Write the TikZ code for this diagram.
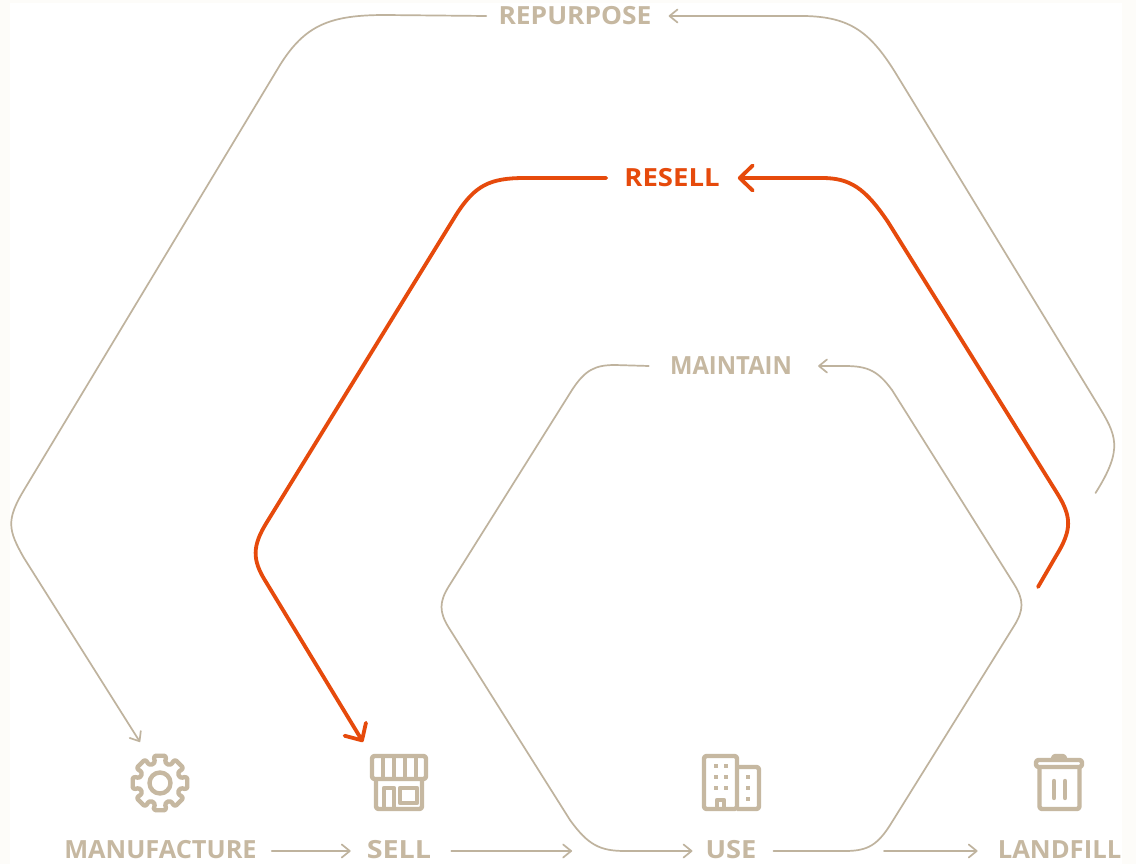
\documentclass[tikz,border=0pt]{standalone}
\usepackage{fontspec}
\setmainfont{Open Sans}
\usetikzlibrary{arrows.meta,calc}
\definecolor{tan}{HTML}{C6B8A1}
\definecolor{tanline}{HTML}{BFB39E}
\definecolor{hot}{HTML}{E64A0C}
\definecolor{paper}{HTML}{FDFCF9}
\newcommand{\hs}[2]{\scalebox{#1}[1]{#2}}
\tikzset{
  lab/.style={inner sep=0pt,text=tan,font=\fontsize{25}{27}\selectfont\bfseries},
  hotlab/.style={lab,text=hot},
  thin line/.style={draw=tanline,line width=1.7pt,line cap=round},
  thin arrow/.style={thin line,-{Straight Barb[length=8pt,width=13pt,line width=1.7pt,round]}},
  hot line/.style={draw=hot,line width=3.8pt,line cap=round},
  hot arrow/.style={hot line,-{Straight Barb[length=13pt,width=25pt,line width=3.8pt,round]}},
  icon/.style={draw=tan,line width=4.4pt,line join=round,rounded corners=2.5pt},
  idot/.style={fill=tan,minimum size=3.6pt,inner sep=0pt,draw=none}
}
\begin{document}
\begin{tikzpicture}[x=1pt,y=-1pt]
\useasboundingbox (0,0) rectangle (1136,864);
\fill[paper] (0,0) rectangle (1136,864);
\fill[white] (10,3) rectangle (1122,864);
% labels
\node[lab] (repurpose) at (575,16) {\hs{1.055}{REPURPOSE}};
\node[hotlab] (resell) at (672,178) {\hs{1.10}{RESELL}};
\node[lab] (maintain) at (731,366) {\hs{.952}{MAINTAIN}};
\node[lab] (manufacture) at (160.5,850) {\hs{1.013}{MANUFACTURE}};
\node[lab] (sell) at (399,850) {\hs{1.148}{SELL}};
\node[lab] (use) at (731,850) {\hs{1.087}{USE}};
\node[lab] (landfill) at (1059.5,850) {\hs{1.025}{LANDFILL}};
% free ends
\coordinate (repstart) at (1095.5,493);
\coordinate (manin) at (140,742);
\coordinate (resstart) at (1038,587);
\coordinate (sellin) at (363,742);
\coordinate (sellout) at (572,851);
\coordinate (landout) at (884,851);
% bottom row
\draw[thin arrow] ([xshift=15pt,yshift=-1pt]manufacture.east) -- ([xshift=-16pt,yshift=-1pt]sell.west);
\draw[thin arrow] ([xshift=20pt,yshift=-1pt]sell.east) -- (sellout);
\draw[thin arrow] (landout) -- ([xshift=-20pt,yshift=-1pt]landfill.west);
% repurpose loop
\draw[thin arrow] (repstart) .. controls (1124,448) and (1116,435) .. (1098,405)
  -- (895,72) .. controls (870,32) and (850,17) .. (805,16)
  -- ([xshift=17pt]repurpose.east);
\draw[thin arrow] ([xshift=-12pt]repurpose.west) -- (385,15)
  .. controls (330,15) and (305,25) .. (280,65)
  -- (24,490) .. controls (6,520) and (8,530) .. (24,558)
  -- (manin);
% resell loop
\draw[hot arrow] (resstart) -- (1056,556) .. controls (1072,530) and (1072,517) .. (1057,493)
  -- (888,222) .. controls (865,188) and (850,178) .. (822,178)
  -- ([xshift=18pt]resell.east);
\draw[hot arrow] ([xshift=-18pt]resell.west) -- (525,178)
  .. controls (490,178) and (475,185) .. (456,215)
  -- (267,522) .. controls (252,546) and (252,560) .. (266,582)
  -- (sellin);
% maintain loop
\draw[thin arrow] ([xshift=-21pt]maintain.west) -- (615,365)
  .. controls (595,365) and (585,370) .. (572,390)
  -- (449,586) .. controls (439,602) and (439,612) .. (449,628)
  -- (570,820) .. controls (588,845) and (600,851) .. (625,851)
  -- ([xshift=-13pt,yshift=-1pt]use.west);
\draw[thin arrow] ([xshift=17pt,yshift=-1pt]use.east) -- (845,851)
  .. controls (868,851) and (878,845) .. (892,822)
  -- (1014,626) .. controls (1024,610) and (1024,600) .. (1014,584)
  -- (892,390) .. controls (878,371) and (868,366) .. (845,366)
  -- ([xshift=26pt]maintain.east);
% gear icon
\draw[icon] (160,783) circle (10.5pt);
\draw[icon] ($(160,783)+(103:28)$)
  \foreach \a in {90,45,0,-45,-90,-135,180,135}{
    -- ($(160,783)+(\a+13:28)$) -- ($(160,783)+(\a-13:28)$) -- ($(160,783)+(\a-14:20.5)$) -- ($(160,783)+(\a-31:20.5)$)
  } -- cycle;
% shop icon
\draw[icon] (372,756) rectangle (426,779);
\draw[icon] (376,779) -- (376,809) -- (422,809) -- (422,779);
\draw[icon,rounded corners=0pt] (383,756) -- (383,779) (394,756) -- (394,779) (405,756) -- (405,779) (416,756) -- (416,779);
\draw[icon,rounded corners=0pt] (384,809) -- (384,788) -- (394,788) -- (394,809);
\draw[icon,rounded corners=0pt] (400,788) rectangle (417,803);
% building icon
\draw[icon] (704,809) -- (704,756) -- (737,756) -- (737,809) -- cycle;
\draw[icon] (737,767) -- (759,767) -- (759,809) -- (737,809);
\draw[icon,rounded corners=0pt] (717,809) -- (717,800) -- (724,800) -- (724,809);
\foreach \x in {716,726}\foreach \y in {766,777,788}
  \node[idot] (d\x\y) at (\x,\y) {};
\foreach \y in {777,788,799}
  \node[idot] (e\y) at (748,\y) {};
% bin icon
\draw[icon] (1036,767) -- (1036,760) -- (1082,760) -- (1082,767) -- cycle;
\draw[icon] (1053,760) -- (1053,756) -- (1065,756) -- (1065,760);
\draw[icon] (1039.5,767) -- (1039.5,809) -- (1079.5,809) -- (1079.5,767);
\draw[icon,line cap=round] (1054,781) -- (1054,798) (1065,781) -- (1065,798);
\end{tikzpicture}
\end{document}
